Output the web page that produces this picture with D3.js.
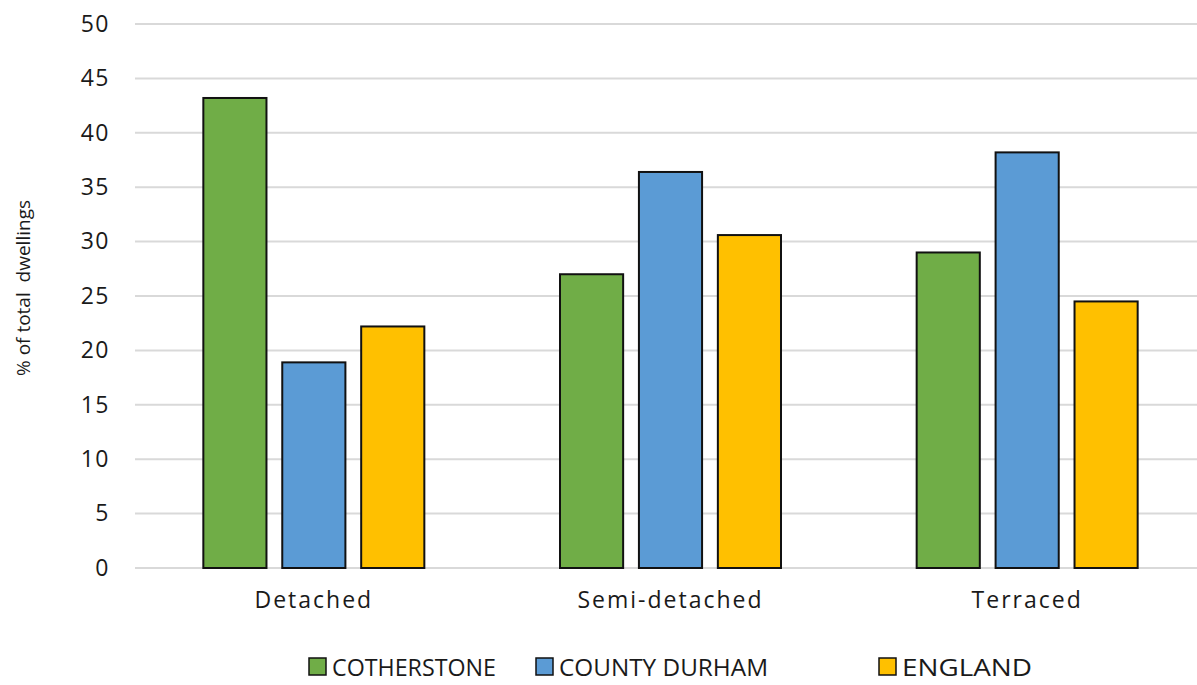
<!DOCTYPE html>
<html>
<head>
<meta charset="utf-8">
<script src="https://cdn.jsdelivr.net/npm/d3@7"></script>
<style>
  body { margin: 0; background: #fff; }
  svg text { font-family: "Open Sans", Lato, sans-serif; fill: #1a1a1a; }
</style>
</head>
<body>
<div id="chart"></div>
<script>
const categories = ["Detached", "Semi-detached", "Terraced"];
const seriesNames = ["COTHERSTONE", "COUNTY DURHAM", "ENGLAND"];
const cotherstone = [43.2, 27.0, 29.0];
const countyDurham = [18.9, 36.4, 38.2];
const england = [22.2, 30.6, 24.5];
const yTicks = [0, 5, 10, 15, 20, 25, 30, 35, 40, 45, 50];
const seriesColors = ["#70AD47", "#5B9BD5", "#FFC000"];

const WIDTH = 1197;
const HEIGHT = 685;
const FONT = "'Open Sans', Lato, sans-serif";
const seriesValues = [cotherstone, countyDurham, england];

const data = categories.map((c, i) => ({
    cat: c,
    vals: seriesNames.map((s, j) => ({ series: s, value: seriesValues[j][i], color: seriesColors[j] }))
}));

const svg = d3.select("#chart")
    .append("svg")
    .attr("width", WIDTH)
    .attr("height", HEIGHT);

// scales
const x0 = d3.scaleBand()
    .domain(categories)
    .range([135.5, 1205.5])
    .padding(0);
const groupWidth = 221;
const x1 = d3.scaleBand()
    .domain(seriesNames)
    .range([0, groupWidth])
    .paddingInner(0.2)
    .paddingOuter(0);
const yScale = d3.scaleLinear()
    .domain([0, 50])
    .range([568, 24]);

// gridlines
svg.append("g")
   .selectAll("line")
   .data(yTicks)
   .enter()
   .append("line")
   .attr("x1", 135)
   .attr("x2", WIDTH)
   .attr("y1", d => yScale(d))
   .attr("y2", d => yScale(d))
   .attr("stroke", "#d9d9d9")
   .attr("stroke-width", 2);

// y axis labels
const yAxis = d3.axisLeft(yScale)
    .tickValues(yTicks)
    .tickSize(0)
    .tickPadding(0);
svg.append("g")
   .attr("transform", "translate(110,0)")
   .call(yAxis)
   .call(g => g.select(".domain").remove())
   .selectAll("text")
   .style("font-size", "23px")
   .style("letter-spacing", "1.5px")
   .style("font-family", FONT)
   .attr("fill", "#1a1a1a");

// bars
const groups = svg.append("g")
   .selectAll("g")
   .data(data)
   .enter()
   .append("g")
   .attr("transform", d => "translate(" + (x0(d.cat) + (x0.bandwidth() - groupWidth) / 2) + ",0)");

groups.selectAll("rect")
   .data(d => d.vals)
   .enter()
   .append("rect")
   .attr("x", d => x1(d.series))
   .attr("y", d => yScale(d.value))
   .attr("width", x1.bandwidth())
   .attr("height", d => yScale(0) - yScale(d.value))
   .attr("fill", d => d.color)
   .attr("stroke", "#111")
   .attr("stroke-width", 2);

// x axis labels
const xAxis = d3.axisBottom(x0).tickSize(0).tickPadding(0);
svg.append("g")
   .attr("transform", "translate(0,592)")
   .call(xAxis)
   .call(g => g.select(".domain").remove())
   .selectAll("text")
   .style("font-size", "23px")
   .style("letter-spacing", "2px")
   .style("font-family", FONT)
   .attr("fill", "#1a1a1a");

// y axis title
svg.append("text")
   .attr("transform", "translate(30,288) rotate(-90)")
   .attr("text-anchor", "middle")
   .style("font-size", "19px")
   .style("white-space", "pre")
   .text("% of total  dwellings");

// legend
const legendX = [309, 536, 879];
const legendTextW = [164, 209, 130];
const legend = svg.append("g")
   .selectAll("g")
   .data(seriesNames)
   .enter()
   .append("g")
   .attr("transform", (d, i) => "translate(" + legendX[i] + ",658)");
legend.append("rect")
   .attr("width", 17)
   .attr("height", 17)
   .attr("fill", (d, i) => seriesColors[i])
   .attr("stroke", "#111")
   .attr("stroke-width", 1.5);
legend.append("text")
   .attr("x", 23)
   .attr("y", 18)
   .attr("textLength", (d, i) => legendTextW[i])
   .attr("lengthAdjust", "spacingAndGlyphs")
   .style("font-size", "24px")
   .text(d => d);
</script>
</body>
</html>
